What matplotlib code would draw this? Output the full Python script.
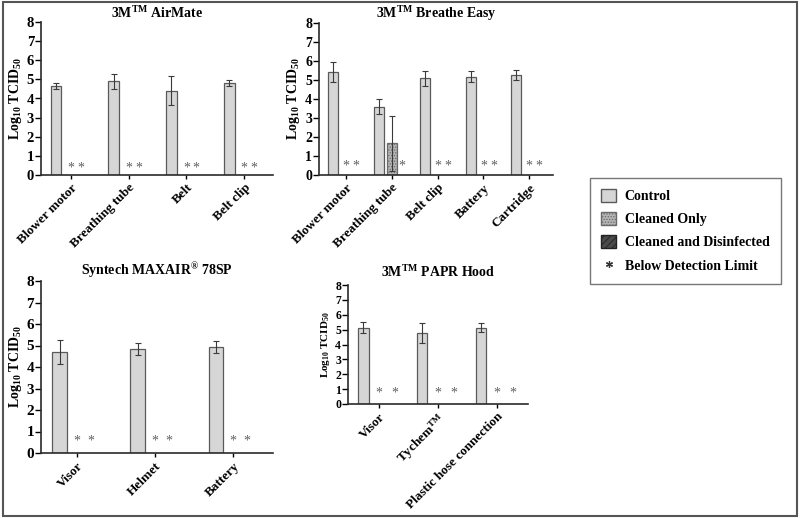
import numpy as np
import matplotlib.pyplot as plt
from matplotlib.patches import Patch, Rectangle
from matplotlib.lines import Line2D

# Schrift: Times-aehnlich, fett
plt.rcParams['font.family'] = 'Liberation Serif'
plt.rcParams['font.weight'] = 'bold'
plt.rcParams['axes.labelweight'] = 'bold'
plt.rcParams['axes.titleweight'] = 'bold'
plt.rcParams['mathtext.fontset'] = 'custom'
plt.rcParams['mathtext.rm'] = 'Liberation Serif:bold'
plt.rcParams['mathtext.bf'] = 'Liberation Serif:bold'
plt.rcParams['mathtext.default'] = 'rm'
plt.rcParams['hatch.linewidth'] = 0.6

# Daten (Log10 TCID50, Mittelwert und SD); nan = unter Nachweisgrenze
airmate_parts = ["Blower motor", "Breathing tube", "Belt", "Belt clip"]
airmate_ctrl = [4.64, 4.90, 4.41, 4.82]
airmate_ctrl_sd = [0.16, 0.40, 0.77, 0.15]
airmate_clean = [np.nan, np.nan, np.nan, np.nan]
airmate_clean_sd = [0, 0, 0, 0]

breathe_parts = ["Blower motor", "Breathing tube", "Belt clip", "Battery", "Cartridge"]
breathe_ctrl = [5.43, 3.59, 5.08, 5.17, 5.25]
breathe_ctrl_sd = [0.52, 0.40, 0.40, 0.30, 0.27]
breathe_clean = [np.nan, 1.66, np.nan, np.nan, np.nan]
breathe_clean_sd = [0, 1.46, 0, 0, 0]

maxair_parts = ["Visor", "Helmet", "Battery"]
maxair_ctrl = [4.70, 4.85, 4.93]
maxair_ctrl_sd = [0.54, 0.28, 0.30]
maxair_clean = [np.nan, np.nan, np.nan]
maxair_clean_sd = [0, 0, 0]

hood_parts = ["Visor", "Tychem$^{\\mathrm{TM}}$", "Plastic hose connection"]
hood_ctrl = [5.14, 4.76, 5.14]
hood_ctrl_sd = [0.38, 0.68, 0.33]
hood_clean = [np.nan, np.nan, np.nan]
hood_clean_sd = [0, 0, 0]

yticks = list(range(0, 9))

fig = plt.figure(figsize=(8, 5.18), dpi=100)

# Panels: Titel, Daten, Achsenposition (px), Layout
panels = [
    dict(title="3M$^{\\mathrm{TM}}$ AirMate", parts=airmate_parts, ctrl=airmate_ctrl,
         ctrl_sd=airmate_ctrl_sd, clean=airmate_clean, clean_sd=airmate_clean_sd,
         box=(41, 22, 273, 175), xlim=(-0.52, 3.5), c_off=-0.26, d_off=0.17, w=0.19,
         star_y=0.37, tick_fs=10.5, lab_fs=10, pad=3),
    dict(title="3M$^{\\mathrm{TM}}$ Breathe Easy", parts=breathe_parts, ctrl=breathe_ctrl,
         ctrl_sd=breathe_ctrl_sd, clean=breathe_clean, clean_sd=breathe_clean_sd,
         box=(319, 23, 553, 175), xlim=(-0.59, 4.52), c_off=-0.28, d_off=0.22, w=0.22,
         star_y=0.47, tick_fs=10, lab_fs=10, pad=3),
    dict(title="Syntech MAXAIR$^{®}$ 78SP", parts=maxair_parts, ctrl=maxair_ctrl,
         ctrl_sd=maxair_ctrl_sd, clean=maxair_clean, clean_sd=maxair_clean_sd,
         box=(41, 281, 273, 453), xlim=(-0.46, 2.51), c_off=-0.22, d_off=0.18, w=0.19,
         star_y=0.56, tick_fs=11, lab_fs=10, pad=3),
    dict(title="3M$^{\\mathrm{TM}}$ PAPR Hood", parts=hood_parts, ctrl=hood_ctrl,
         ctrl_sd=hood_ctrl_sd, clean=hood_clean, clean_sd=hood_clean_sd,
         box=(348, 285, 528, 404), xlim=(-0.53, 2.53), c_off=-0.27, d_off=0.27, w=0.18,
         star_y=0.74, tick_fs=8.5, lab_fs=8, pad=6),
]

W, H = 800, 518
for p in panels:
    x0, y0, x1, y1 = p["box"]
    ax = fig.add_axes([x0 / W, 1 - y1 / H, (x1 - x0) / W, (y1 - y0) / H])
    x = np.arange(len(p["parts"]))
    ctrl = np.array(p["ctrl"])
    clean = np.array(p["clean"])
    clean_sd = np.array(p["clean_sd"])

    ax.bar(x + p["c_off"], ctrl, p["w"], yerr=p["ctrl_sd"], color="#d6d6d6",
           edgecolor="#5a5a5a", linewidth=0.9, ecolor="#3a3a3a", capsize=2.5,
           error_kw=dict(elinewidth=0.8, capthick=0.8))
    m = ~np.isnan(clean)
    if m.any():
        ax.bar(x[m], clean[m], p["w"], yerr=clean_sd[m], color="#b4b4b4",
               edgecolor="#6a6a6a", linewidth=0.9, hatch="......", ecolor="#3a3a3a",
               capsize=2.5, error_kw=dict(elinewidth=0.8, capthick=0.8))

    # Sternchen = unter Nachweisgrenze
    stars = list(x[~m]) + list(x + p["d_off"])
    for xs in stars:
        ax.text(xs, p["star_y"], "*", ha="center", va="center", fontsize=10,
                fontweight="normal", color="#606060")

    ax.set_xlim(*p["xlim"])
    ax.set_ylim(0, 8)
    ax.set_yticks(yticks, labels=[str(t) for t in yticks], fontweight="bold",
                  fontsize=p["tick_fs"])
    ax.set_xticks(x, labels=p["parts"], rotation=45, ha="right", rotation_mode="anchor",
                  fontsize=9.5, fontweight="bold")
    ax.tick_params(axis="y", length=4, width=1, pad=1)
    ax.tick_params(axis="x", length=3, width=1, pad=2)
    for s in ["top", "right"]:
        ax.spines[s].set_visible(False)
    for s in ["left", "bottom"]:
        ax.spines[s].set_linewidth(1.2)
        ax.spines[s].set_color("#2a2a2a")
    ax.set_ylabel("Log$_{10}$ TCID$_{50}$", fontsize=p["lab_fs"], fontweight="bold",
                  labelpad=2)
    ax.set_title(p["title"], fontsize=10, fontweight="bold", pad=p["pad"])

# Legende
handles = [
    Patch(facecolor="#d6d6d6", edgecolor="#5a5a5a", label="Control"),
    Patch(facecolor="#b4b4b4", edgecolor="#6a6a6a", hatch="......", label="Cleaned Only"),
    Patch(facecolor="#4a4a4a", edgecolor="#222222", hatch="/////",
          label="Cleaned and Disinfected"),
    Line2D([], [], linestyle="none", marker=(6, 2, 0), markersize=5, markeredgewidth=0.9,
           color="#333333", label="Below Detection Limit"),
]
leg = fig.legend(handles=handles, loc="upper left", bbox_to_anchor=(590 / W, 1 - 178 / H),
                 prop=dict(family="Liberation Serif", weight="bold", size=10),
                 frameon=True, fancybox=False, handlelength=1.1, borderaxespad=0,
                 handleheight=1.1, handletextpad=0.6, labelspacing=0.62, borderpad=0.8)
leg.get_frame().set_edgecolor("#555555")
leg.get_frame().set_linewidth(1.0)

# Rahmen um die ganze Abbildung
fig.patches.append(Rectangle((3 / W, 2 / H), 794 / W, 514 / H, transform=fig.transFigure,
                             fill=False, edgecolor="#555555", linewidth=1.5))

fig.savefig("out.png", dpi=100)
